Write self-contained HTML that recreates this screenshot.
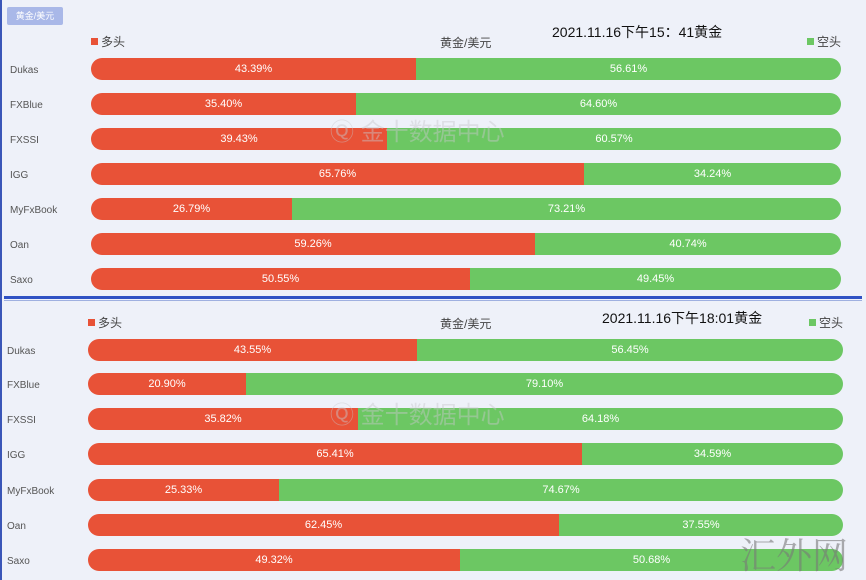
<!DOCTYPE html><html><head><meta charset="utf-8"><style>
*{margin:0;padding:0;box-sizing:border-box}
body{width:866px;height:580px;background:#eef1f9;position:relative;overflow:hidden;font-family:"Liberation Sans","Noto Sans CJK SC",sans-serif}
.a{position:absolute}
.bar{position:absolute;height:22px;border-radius:11px;overflow:hidden;display:flex;font-size:11px;color:#fff;line-height:22px}
.r{background:#e85237;text-align:center}
.g{background:#6cc763;flex:1;text-align:center}
.n{position:absolute;font-size:10px;color:#555}
.lg{font-size:12px;color:#444}
.sq{display:inline-block;width:7px;height:7px;vertical-align:1px;margin-right:3px}
.wm{position:absolute;font-size:24px;color:rgba(200,200,205,0.45)}
</style></head><body>
<div class="a" style="left:0;top:0;width:2px;height:580px;background:#3a56b8"></div>
<div class="a" style="left:7px;top:7px;width:56px;height:18px;background:#a9b8e8;border-radius:2px;color:#fff;font-size:9px;line-height:18px;text-align:center">黄金/美元</div>
<div class="a lg" style="left:91px;top:33px"><span class="sq" style="background:#e85237"></span>多头</div>
<div class="a lg" style="left:440px;top:34px">黄金/美元</div>
<div class="a" style="left:552px;top:22px;font-size:14px;color:#111">2021.11.16下午15：41黄金</div>
<div class="a lg" style="left:807px;top:33px"><span class="sq" style="background:#6cc763"></span>空头</div>

<div class="n" style="left:10px;top:65px">Dukas</div><div class="bar" style="left:91px;top:58px;width:750px"><div class="r" style="width:325px">43.39%</div><div class="g">56.61%</div></div>
<div class="n" style="left:10px;top:100px">FXBlue</div><div class="bar" style="left:91px;top:93px;width:750px"><div class="r" style="width:265px">35.40%</div><div class="g">64.60%</div></div>
<div class="n" style="left:10px;top:135px">FXSSI</div><div class="bar" style="left:91px;top:128px;width:750px"><div class="r" style="width:296px">39.43%</div><div class="g">60.57%</div></div>
<div class="n" style="left:10px;top:170px">IGG</div><div class="bar" style="left:91px;top:163px;width:750px"><div class="r" style="width:493px">65.76%</div><div class="g">34.24%</div></div>
<div class="n" style="left:10px;top:205px">MyFxBook</div><div class="bar" style="left:91px;top:198px;width:750px"><div class="r" style="width:201px">26.79%</div><div class="g">73.21%</div></div>
<div class="n" style="left:10px;top:240px">Oan</div><div class="bar" style="left:91px;top:233px;width:750px"><div class="r" style="width:444px">59.26%</div><div class="g">40.74%</div></div>
<div class="n" style="left:10px;top:275px">Saxo</div><div class="bar" style="left:91px;top:268px;width:750px"><div class="r" style="width:379px">50.55%</div><div class="g">49.45%</div></div>
<div class="wm" style="left:330px;top:112px">Ⓠ 金十数据中心</div>

<div class="a" style="left:4px;top:296px;width:858px;height:3px;background:#2f52c4"></div>
<div class="a" style="left:4px;top:300px;width:858px;height:1px;background:#9fb0e0"></div>

<div class="a lg" style="left:88px;top:314px"><span class="sq" style="background:#e85237"></span>多头</div>
<div class="a lg" style="left:440px;top:315px">黄金/美元</div>
<div class="a" style="left:602px;top:308px;font-size:14px;color:#111">2021.11.16下午18:01黄金</div>
<div class="a lg" style="left:809px;top:314px"><span class="sq" style="background:#6cc763"></span>空头</div>

<div class="n" style="left:7px;top:346px">Dukas</div><div class="bar" style="left:88px;top:339px;width:755px"><div class="r" style="width:329px">43.55%</div><div class="g">56.45%</div></div>
<div class="n" style="left:7px;top:380px">FXBlue</div><div class="bar" style="left:88px;top:373px;width:755px"><div class="r" style="width:158px">20.90%</div><div class="g">79.10%</div></div>
<div class="n" style="left:7px;top:415px">FXSSI</div><div class="bar" style="left:88px;top:408px;width:755px"><div class="r" style="width:270px">35.82%</div><div class="g">64.18%</div></div>
<div class="n" style="left:7px;top:450px">IGG</div><div class="bar" style="left:88px;top:443px;width:755px"><div class="r" style="width:494px">65.41%</div><div class="g">34.59%</div></div>
<div class="n" style="left:7px;top:486px">MyFxBook</div><div class="bar" style="left:88px;top:479px;width:755px"><div class="r" style="width:191px">25.33%</div><div class="g">74.67%</div></div>
<div class="n" style="left:7px;top:521px">Oan</div><div class="bar" style="left:88px;top:514px;width:755px"><div class="r" style="width:471px">62.45%</div><div class="g">37.55%</div></div>
<div class="n" style="left:7px;top:556px">Saxo</div><div class="bar" style="left:88px;top:549px;width:755px"><div class="r" style="width:372px">49.32%</div><div class="g">50.68%</div></div>
<div class="wm" style="left:330px;top:395px">Ⓠ 金十数据中心</div>
<div class="a" style="left:740px;top:528px;font-size:36px;color:rgba(120,120,120,0.6);font-family:'Noto Serif CJK SC',serif">汇外网</div>
</body></html>
